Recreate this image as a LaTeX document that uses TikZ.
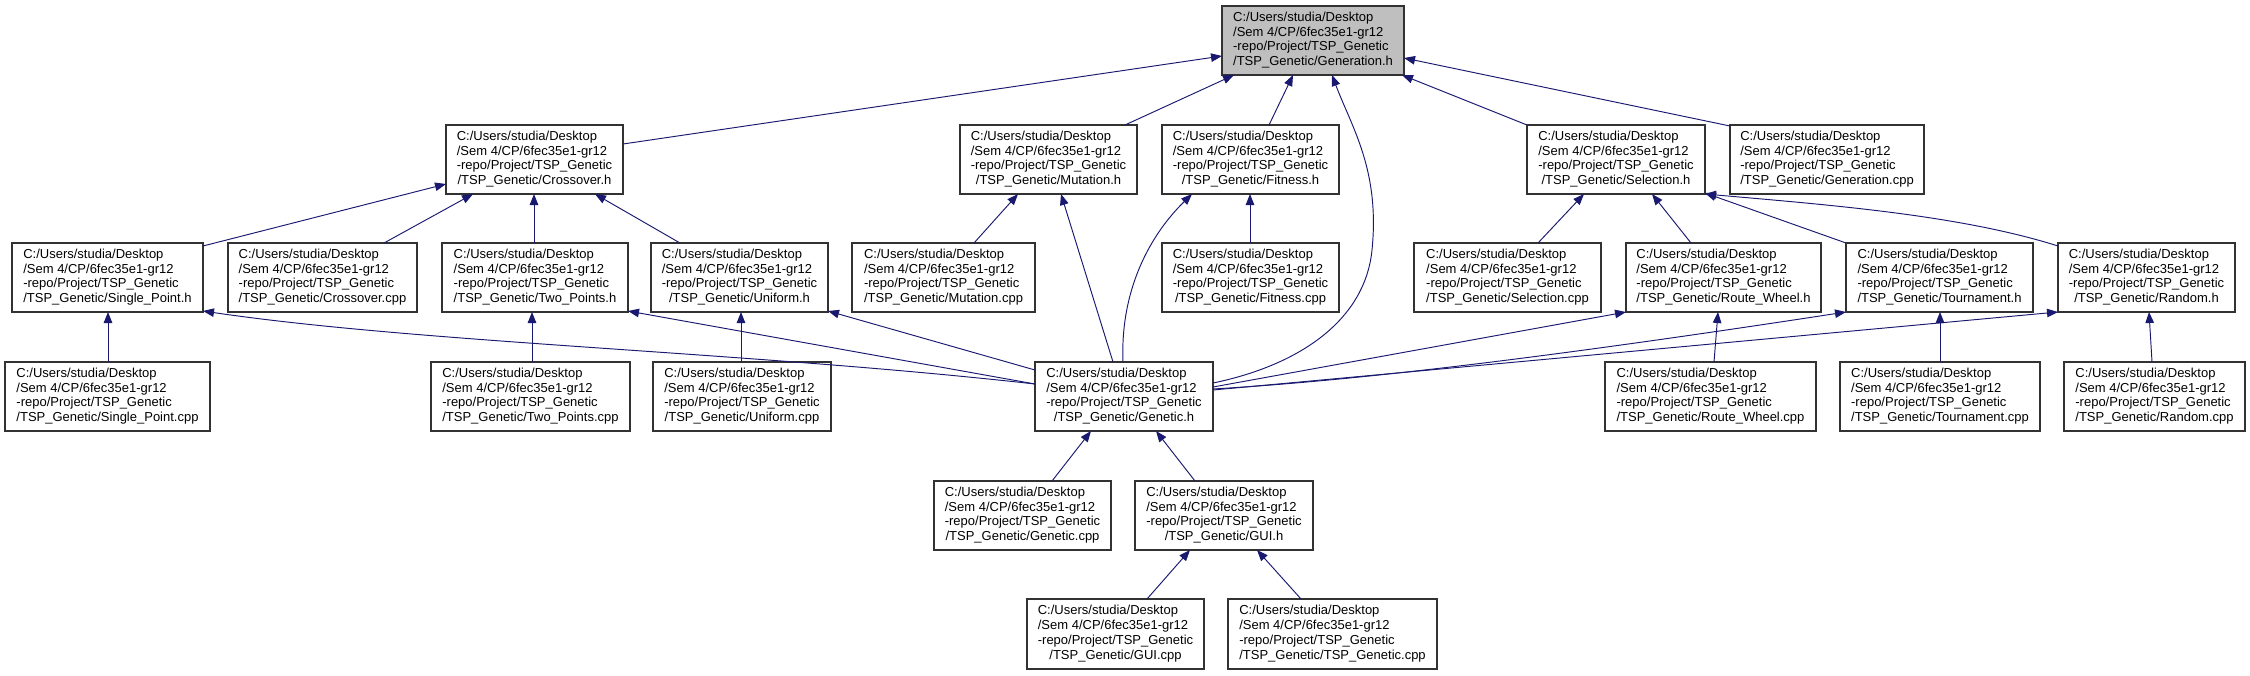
\documentclass[tikz,border=0pt]{standalone}
\usepackage{fontspec}
\setmainfont{Liberation Sans}
\usetikzlibrary{arrows.meta,calc}
\definecolor{edgeblue}{RGB}{25,25,112}
\definecolor{boxline}{RGB}{50,50,50}
\definecolor{boxgray}{RGB}{191,191,191}
\newcommand\lbl[1]{\begin{tabular}{@{}l@{}}C:/Users/studia/Desktop\\/Sem 4/CP/6fec35e1-gr12\\-repo/Project/TSP\_Genetic\\\multicolumn{1}{@{}c@{}}{/TSP\_Genetic/#1}\end{tabular}}
\newcommand\nd[7][]{\node[filebox,#1,minimum width={#4-#3},minimum height={#6-#5}] (#2) at ({(#3+#4)/2},{(#5+#6)/2}) {\lbl{#7}};}
\tikzset{
  filebox/.style={draw=boxline,fill=white,line width=1.2pt,inner sep=0pt,outer sep=0pt,
    font=\fontsize{13}{14.8}\selectfont},
  curfile/.style={fill=boxgray},
  incl/.style={draw=edgeblue,line width=0.95pt,-{Triangle[length=11pt,width=8.5pt]}},
}
\begin{document}
\begin{tikzpicture}[x=1pt,y=-1pt]
\useasboundingbox (0,0) rectangle (2250,675);
% row 1
\nd[curfile]{gen}{1222}{1404}{6}{75}{Generation.h}
% row 2
\nd{cross}{446}{623}{125}{194}{Crossover.h}
\nd{mut}{960}{1137}{125}{194}{Mutation.h}
\nd{fit}{1162}{1339}{125}{194}{Fitness.h}
\nd{sel}{1527}{1705}{125}{194}{Selection.h}
\nd{gencpp}{1730}{1924}{125}{194}{Generation.cpp}
% row 3
\nd{sph}{12}{203}{243}{312}{Single\_Point.h}
\nd{crosscpp}{228}{417}{243}{312}{Crossover.cpp}
\nd{tph}{442}{628}{243}{312}{Two\_Points.h}
\nd{unih}{651}{828}{243}{312}{Uniform.h}
\nd{mutcpp}{852}{1035}{243}{312}{Mutation.cpp}
\nd{fitcpp}{1162}{1339}{243}{312}{Fitness.cpp}
\nd{selcpp}{1414}{1601}{243}{312}{Selection.cpp}
\nd{rwh}{1626}{1821}{243}{312}{Route\_Wheel.h}
\nd{tourh}{1846}{2033}{243}{312}{Tournament.h}
\nd{randh}{2058}{2235}{243}{312}{Random.h}
% row 4
\nd{spcpp}{5}{210}{362}{431}{Single\_Point.cpp}
\nd{tpcpp}{431}{630}{362}{431}{Two\_Points.cpp}
\nd{unicpp}{653}{831}{362}{431}{Uniform.cpp}
\nd{genh}{1035}{1213}{362}{431}{Genetic.h}
\nd{rwcpp}{1605}{1816}{362}{431}{Route\_Wheel.cpp}
\nd{tourcpp}{1840}{2040}{362}{431}{Tournament.cpp}
\nd{randcpp}{2064}{2245}{362}{431}{Random.cpp}
% row 5
\nd{genecpp}{934}{1111}{481}{550}{Genetic.cpp}
\nd{guih}{1135}{1313}{481}{550}{GUI.h}
% row 6
\nd{guicpp}{1027}{1204}{599}{669}{GUI.cpp}
\nd{tspcpp}{1228}{1437}{599}{669}{TSP\_Genetic.cpp}

% edges to Generation.h
\draw[incl] ($(cross.north west)+(177,19)$) -- ($(gen.north west)+(0,50)$);
\draw[incl] ($(mut.north west)+(165,0)$) -- ($(gen.north west)+(12,69)$);
\draw[incl] ($(fit.north west)+(107,0)$) -- ($(gen.north west)+(71,69)$);
\draw[incl] ($(genh.north west)+(178,21)$) .. controls (1300,365) and (1365,320) .. (1372,250)
  .. controls (1380,170) and (1352,128) .. ($(gen.north west)+(110,69)$);
\draw[incl] ($(sel.north west)+(0,0)$) -- ($(gen.north west)+(180,69)$);
\draw[incl] ($(gencpp.north west)+(0,1)$) -- ($(gen.north west)+(182,52)$);
% edges to Crossover.h
\draw[incl] ($(sph.north west)+(191,3)$) -- ($(cross.north west)+(0,59)$);
\draw[incl] ($(crosscpp.north west)+(156,0)$) -- ($(cross.north west)+(27,69)$);
\draw[incl] ($(tph.north west)+(92,0)$) -- ($(cross.north west)+(88,69)$);
\draw[incl] ($(unih.north west)+(29,0)$) -- ($(cross.north west)+(149,69)$);
% crossover children
\draw[incl] ($(spcpp.north west)+(103,0)$) -- ($(sph.north west)+(96,69)$);
\draw[incl] ($(genh.north west)+(0,22)$) .. controls (750,352) and (420,343) .. ($(sph.north west)+(191,68)$);
\draw[incl] ($(tpcpp.north west)+(101,0)$) -- ($(tph.north west)+(90,69)$);
\draw[incl] ($(genh.north west)+(0,22)$) -- ($(tph.north west)+(186,68)$);
\draw[incl] ($(unicpp.north west)+(88,0)$) -- ($(unih.north west)+(90,69)$);
\draw[incl] ($(genh.north west)+(0,8)$) -- ($(unih.north west)+(177,68)$);
% mutation, fitness
\draw[incl] ($(mutcpp.north west)+(122,0)$) -- ($(mut.north west)+(58,69)$);
\draw[incl] ($(genh.north west)+(78,0)$) -- ($(mut.north west)+(101,69)$);
\draw[incl] ($(fitcpp.north west)+(88,0)$) -- ($(fit.north west)+(88,69)$);
\draw[incl] ($(genh.north west)+(88,0)$) .. controls (1120,290) and (1150,235) .. ($(fit.north west)+(30,69)$);
% selection
\draw[incl] ($(selcpp.north west)+(124,0)$) -- ($(sel.north west)+(57,69)$);
\draw[incl] ($(rwh.north west)+(65,0)$) -- ($(sel.north west)+(125,69)$);
\draw[incl] ($(tourh.north west)+(0,0)$) -- ($(sel.north west)+(178,68)$);
\draw[incl] ($(randh.north west)+(0,3)$) .. controls (1960,215) and (1830,205) .. ($(sel.north west)+(178,69)$);
\draw[incl] ($(genh.north west)+(178,25)$) -- ($(rwh.north west)+(0,69)$);
\draw[incl] ($(genh.north west)+(178,27)$) .. controls (1330,382) and (1500,365) .. ($(tourh.north west)+(0,69)$);
\draw[incl] ($(genh.north west)+(178,28)$) -- ($(randh.north west)+(0,69)$);
\draw[incl] ($(rwcpp.north west)+(109,0)$) -- ($(rwh.north west)+(92,69)$);
\draw[incl] ($(tourcpp.north west)+(100,0)$) -- ($(tourh.north west)+(94,69)$);
\draw[incl] ($(randcpp.north west)+(88,0)$) -- ($(randh.north west)+(91,69)$);
% genetic children
\draw[incl] ($(genecpp.north west)+(118,0)$) -- ($(genh.north west)+(56,69)$);
\draw[incl] ($(guih.north west)+(60,0)$) -- ($(genh.north west)+(121,69)$);
\draw[incl] ($(guicpp.north west)+(120,0)$) -- ($(guih.north west)+(55,69)$);
\draw[incl] ($(tspcpp.north west)+(73,0)$) -- ($(guih.north west)+(122,69)$);
\end{tikzpicture}
\end{document}
